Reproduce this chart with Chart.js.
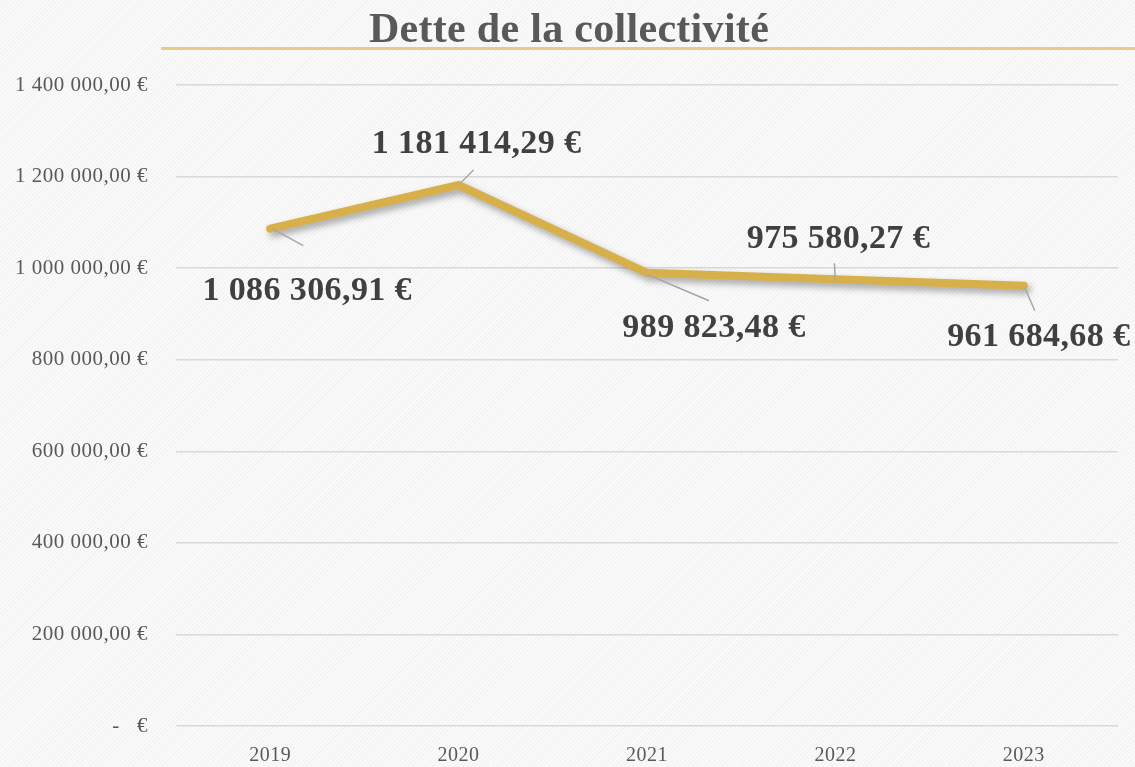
<!DOCTYPE html>
<html>
<head>
<meta charset="utf-8">
<script src="https://cdn.jsdelivr.net/npm/chart.js@4/dist/chart.umd.min.js"></script>
<style>
  html, body { margin: 0; padding: 0; }
  body {
    width: 1135px; height: 767px; overflow: hidden;
    background-color: #f6f6f6;
    background-image: repeating-linear-gradient(135deg, rgba(255,255,255,0.55) 0px, rgba(255,255,255,0.55) 1px, rgba(235,235,235,0.35) 2px, rgba(255,255,255,0) 3px);
  }
  #wrap { position: relative; width: 1135px; height: 767px; }
</style>
</head>
<body>
<div id="wrap"><canvas id="c" width="1135" height="767"></canvas></div>
<script>
const title = "Dette de la collectivité";
const categories = ["2019", "2020", "2021", "2022", "2023"];
const debtValues = [1086306.91, 1181414.29, 989823.48, 975580.27, 961684.68];
const yTickValues = [0, 200000, 400000, 600000, 800000, 1000000, 1200000, 1400000];

// label placement (offset of label centre from point, and leader line end points relative to point)
const labelLayout = [
  { dx: 37,  dy: 63,  l1: [2, 0],   l2: [33, 17] },
  { dx: 18,  dy: -41, l1: [2, -2],  l2: [15, -15] },
  { dx: 67,  dy: 55,  l1: [1, 2],   l2: [62, 28] },
  { dx: 3,   dy: -40, l1: [-1, -16], l2: [0, 2] },
  { dx: 15,  dy: 52,  l1: [1, 2],   l2: [11, 25] }
];

function fmtEuro(v) {
  if (v === 0) return "-   €";
  const parts = v.toFixed(2).split(".");
  const intPart = parts[0].replace(/\B(?=(\d{3})+(?!\d))/g, " ");
  return intPart + "," + parts[1] + " €";
}

const serif = '"Liberation Serif", "DejaVu Serif", serif';

const spacingPlugin = {
  id: 'spacingPlugin',
  beforeDraw(chart) { chart.ctx.letterSpacing = '0.5px'; }
};

const titlePlugin = {
  id: 'titlePlugin',
  afterDraw(chart) {
    const ctx = chart.ctx;
    ctx.save();
    ctx.letterSpacing = '0.3px';
    ctx.font = 'bold 42px ' + serif;
    ctx.fillStyle = '#595959';
    ctx.textAlign = 'center';
    ctx.textBaseline = 'alphabetic';
    ctx.fillText(title, 569, 42);
    ctx.fillStyle = '#E8CB84';
    ctx.fillRect(161, 47, 974, 3);
    ctx.restore();
  }
};

const shadowPlugin = {
  id: 'shadowPlugin',
  beforeDatasetDraw(chart) {
    const ctx = chart.ctx;
    ctx.save();
    ctx.shadowColor = 'rgba(0,0,0,0.35)';
    ctx.shadowBlur = 7;
    ctx.shadowOffsetX = 3;
    ctx.shadowOffsetY = 4;
  },
  afterDatasetDraw(chart) {
    chart.ctx.restore();
  }
};

const labelPlugin = {
  id: 'labelPlugin',
  afterDatasetsDraw(chart) {
    const ctx = chart.ctx;
    const meta = chart.getDatasetMeta(0);
    ctx.save();
    meta.data.forEach((pt, i) => {
      const L = labelLayout[i];
      ctx.strokeStyle = '#A6A6A6';
      ctx.lineWidth = 1.5;
      ctx.beginPath();
      ctx.moveTo(pt.x + L.l1[0], pt.y + L.l1[1]);
      ctx.lineTo(pt.x + L.l2[0], pt.y + L.l2[1]);
      ctx.stroke();
      ctx.letterSpacing = '0.4px';
      ctx.font = 'bold 34px ' + serif;
      ctx.fillStyle = '#404040';
      ctx.textAlign = 'center';
      ctx.textBaseline = 'middle';
      ctx.fillText(fmtEuro(debtValues[i]), pt.x + L.dx, pt.y + L.dy);
    });
    ctx.restore();
  }
};

new Chart(document.getElementById('c'), {
  type: 'line',
  data: {
    labels: categories,
    datasets: [{
      data: debtValues,
      borderColor: '#D8B04A',
      borderWidth: 8,
      borderCapStyle: 'round',
      borderJoinStyle: 'miter',
      pointRadius: 0,
      tension: 0,
      fill: false
    }]
  },
  options: {
    responsive: false,
    animation: false,
    devicePixelRatio: 1,
    layout: { padding: { top: 85, right: 17, left: 0, bottom: 0 } },
    plugins: { legend: { display: false }, tooltip: { enabled: false }, title: { display: false } },
    scales: {
      x: {
        offset: true,
        grid: { display: false, drawTicks: false },
        border: { display: false },
        ticks: { color: '#595959', font: { family: serif, size: 20 }, padding: 18 },
        afterFit(scale) { scale.height = 41; }
      },
      y: {
        min: 0, max: 1400000,
        afterBuildTicks(scale) { scale.ticks = yTickValues.map(v => ({ value: v })); },
        grid: { color: '#D9D9D9', lineWidth: 1.5, drawTicks: false },
        border: { display: false },
        ticks: { color: '#595959', font: { family: serif, size: 21 }, padding: 28, callback: v => fmtEuro(v) },
        afterFit(scale) { scale.width = 176; }
      }
    }
  },
  plugins: [spacingPlugin, titlePlugin, shadowPlugin, labelPlugin]
});
</script>
</body>
</html>
